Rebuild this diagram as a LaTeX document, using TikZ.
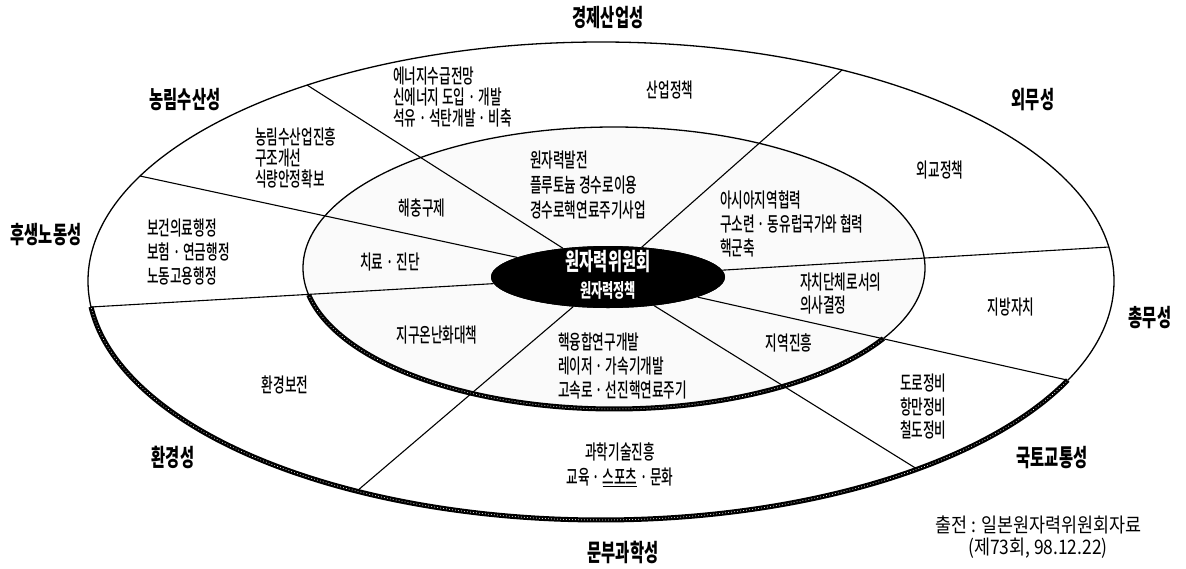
\documentclass[tikz,border=0pt]{standalone}
\usepackage{fontspec}
\newfontfamily\bodyfont{Noto Sans CJK KR Medium}[FakeStretch=0.63]
\newfontfamily\headfont{Noto Sans CJK KR Black}[FakeStretch=0.64]
\newfontfamily\srcfont{Noto Sans CJK KR}[FakeStretch=0.87]
\usetikzlibrary{shapes.geometric}
\begin{document}
\begin{tikzpicture}[x=1pt,y=-1pt,
  head/.style={inner sep=0pt, font=\headfont\fontsize{24}{28}\selectfont},
  body/.style={inner sep=0pt, font=\bodyfont\fontsize{20}{21}\selectfont},
  blockl/.style={body, anchor=west, align=left},
  blockc/.style={body, align=center},
  ring/.style={line width=1.3pt},
  spoke/.style={line width=1.1pt},
  chain/.style={line width=5pt, black},
  chainw/.style={white, line width=1pt, line cap=round, dash pattern=on 0.01pt off 3pt},
  src/.style={inner sep=0pt, anchor=west, font=\srcfont\fontsize{20}{22}\selectfont}]
\useasboundingbox (0,0) rectangle (1186,568);
% ellipses
\fill[black!2] (614,268) ellipse [x radius=311pt, y radius=141pt];
\draw[ring] (601,281) ellipse [x radius=513pt, y radius=239pt];
\draw[ring] (614,268) ellipse [x radius=311pt, y radius=141pt];
\draw[chain] plot[smooth, domain=24.5:173.8, samples=150] ({601+513*cos(\x)}, {281+239*sin(\x)});
\draw[chainw] plot[smooth, domain=24.5:173.8, samples=150] ({601+513*cos(\x)}, {281+239*sin(\x)});
\draw[chain] plot[smooth, domain=30:169, samples=120] ({614+311*cos(\x)}, {268+141*sin(\x)});
\draw[chainw] plot[smooth, domain=30:169, samples=120] ({614+311*cos(\x)}, {268+141*sin(\x)});
% outer end points of spokes
\coordinate (o1) at (307,85);
\coordinate (o2) at (842,70);
\coordinate (o3) at (140,176);
\coordinate (o4) at (91,307);
\coordinate (o5) at (1109,247);
\coordinate (o6) at (1067,380);
\coordinate (o7) at (917,469);
\coordinate (o8) at (357,491);
\node[ellipse, fill=black, inner sep=0pt, minimum width=234pt, minimum height=62pt] (cen) at (608,277) {};
\foreach \i in {1,...,8} \draw[spoke] (cen) -- (o\i);
\node[ellipse, fill=black, inner sep=0pt, minimum width=234pt, minimum height=62pt] (cen2) at (608,277) {};
\node[head, white] (ct1) at (608,262) {원자력위원회};
\node[head, white, font=\headfont\fontsize{19}{22}\selectfont] (ct2) at (608,290) {원자력정책};
% ministries
\node[head] (h1) at (608,18) {경제산업성};
\node[head] (h2) at (185,100) {농림수산성};
\node[head] (h3) at (1033,100) {외무성};
\node[head] (h4) at (46,235) {후생노동성};
\node[head] (h5) at (1150,318) {총무성};
\node[head] (h6) at (1052,458) {국토교통성};
\node[head] (h7) at (173,457) {환경성};
\node[head] (h8) at (623,552) {문부과학성};
% outer ring texts
\node[blockl] (t1) at (393,97) {에너지수급전망\\신에너지 도입 · 개발\\석유 · 석탄개발 · 비축};
\node[body] (t2) at (670,90) {산업정책};
\node[blockl] (t3) at (255,158) {농림수산업진흥\\구조개선\\식량안정확보};
\node[body] (t4) at (940,170) {외교정책};
\node[blockl, font=\bodyfont\fontsize{20}{24}\selectfont] (t5) at (147,252) {보건의료행정\\보험 · 연금행정\\노동고용행정};
\node[body] (t6) at (1011,307) {지방자치};
\node[blockl, font=\bodyfont\fontsize{20}{23.5}\selectfont] (t7) at (900,407) {도로정비\\항만정비\\철도정비};
\node[body] (t8) at (285,385) {환경보전};
\node[blockc, font=\bodyfont\fontsize{20}{25}\selectfont] (t9) at (620,465) {과학기술진흥\\교육 · \underline{스포츠} · 문화};
% inner ring texts
\node[blockl, font=\bodyfont\fontsize{20}{25}\selectfont] (i1) at (530,185) {원자력발전\\플루토늄 경수로이용\\경수로핵연료주기사업};
\node[body] (i2) at (422,208) {해충구제};
\node[body] (i3) at (390,262) {치료 · 진단};
\node[blockl, font=\bodyfont\fontsize{20}{24}\selectfont] (i4) at (720,224) {아시아지역협력\\구소련 · 동유럽국가와 협력\\핵군축};
\node[blockl, font=\bodyfont\fontsize{20}{23}\selectfont] (i5) at (800,294) {자치단체로서의\\의사결정};
\node[body] (i6) at (789,343) {지역진흥};
\node[body] (i7) at (437,335) {지구온난화대책};
\node[blockl, font=\bodyfont\fontsize{20}{24}\selectfont] (i8) at (558,366) {핵융합연구개발\\레이저 · 가속기개발\\고속로 · 선진핵연료주기};
% source
\node[src] (s1) at (935,525) {출전 : 일본원자력위원회자료};
\node[src] (s2) at (968,548) {(제73회, 98.12.22)};
\end{tikzpicture}
\end{document}
